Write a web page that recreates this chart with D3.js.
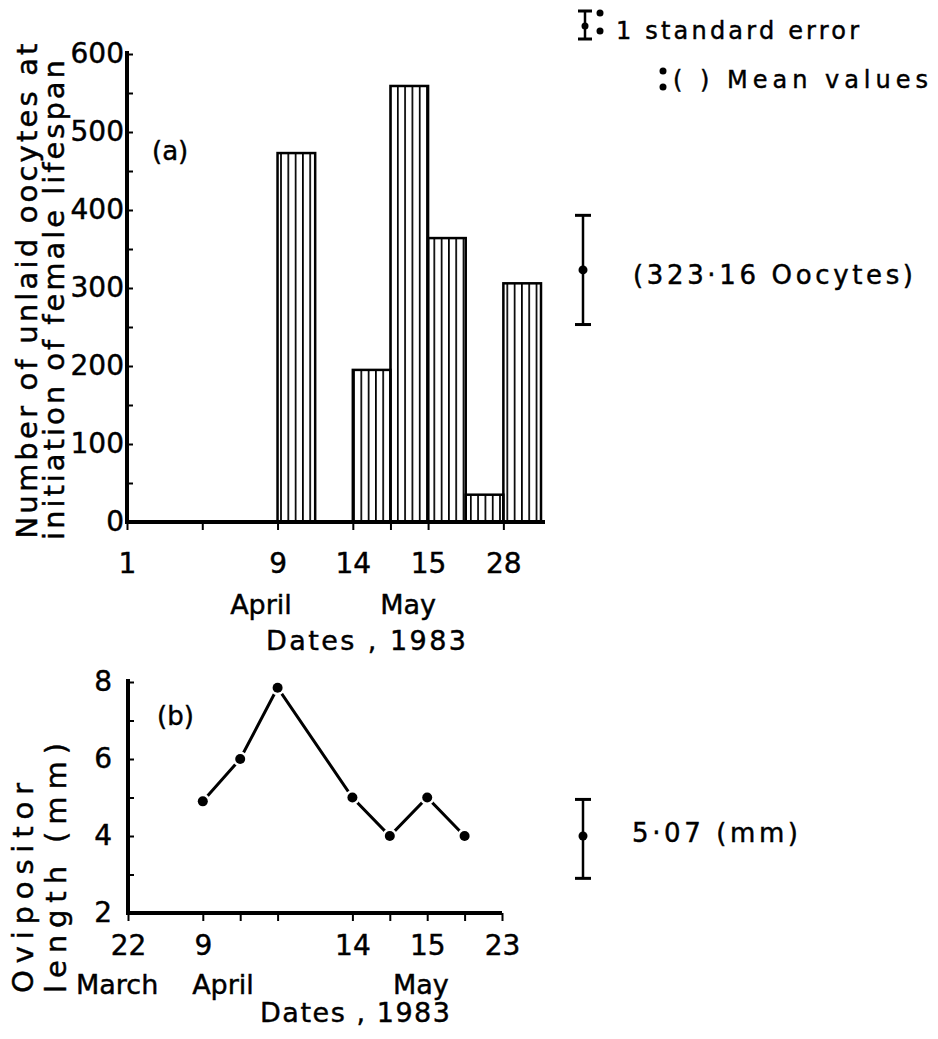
<!DOCTYPE html>
<html>
<head>
<meta charset="utf-8">
<script src="https://cdn.jsdelivr.net/npm/d3@7"></script>
<style>
  body { margin: 0; background: #fff; }
  text { font-family: "DejaVu Sans", sans-serif; fill: #000; stroke: #000; stroke-width: 0.45px; }
</style>
</head>
<body>
<svg></svg>
<script>
// (a) unlaid oocytes
const tickPosA = [0, 2, 4, 6, 7, 8, 10];
const tickLabelsA = ["1", "", "9", "14", "", "15", "28"];
const barSlots = [4, 6, 7, 8, 9, 10];
const barValues = [473, 195, 559, 364, 35, 306];
const monthLabelsA = ["April", "May"];
const monthPosA = [3.56, 7.47];
const meanA = 323.16, seA = 70;

// (b) ovipositor length
const tickPosB = [0, 2, 3, 4, 6, 7, 8, 9, 10];
const tickLabelsB = ["22", "9", "", "", "14", "", "15", "", "23"];
const pointPos = [2, 3, 4, 6, 7, 8, 9];
const lengths = [4.9, 6, 7.85, 5, 4, 5, 4];
const monthLabelsB = ["March", "April", "May"];
const monthPosB = [-0.29, 2.54, 7.83];
const errB = [2.9, 4.0, 4.95];

const svgWidth = 938, svgHeight = 1039;
const svg = d3.select("svg").attr("width", svgWidth).attr("height", svgHeight);

svg.append("defs").append("pattern")
    .attr("id", "hatch")
    .attr("patternUnits", "userSpaceOnUse")
    .attr("width", 7.3).attr("height", 10)
  .append("line")
    .attr("x1", 3.6).attr("x2", 3.6).attr("y1", 0).attr("y2", 10)
    .attr("stroke", "#000").attr("stroke-width", 1.7);

// ---------- chart (a) ----------
const xA = d3.scaleLinear().domain([0, 11]).range([127, 541]);
const yA = d3.scaleLinear().domain([0, 600]).range([522, 54]);

svg.selectAll("rect.bar")
    .data(barValues)
    .enter().append("rect")
    .attr("class", "bar")
    .attr("x", (d, i) => xA(barSlots[i]))
    .attr("y", d => yA(d))
    .attr("width", xA(1) - xA(0))
    .attr("height", d => yA(0) - yA(d))
    .attr("fill", "url(#hatch)")
    .attr("stroke", "#000")
    .attr("stroke-width", 2.5);

const gxA = svg.append("g")
    .attr("transform", "translate(0," + yA(0) + ")")
    .call(d3.axisBottom(xA).tickValues(tickPosA)
      .tickFormat((d, i) => tickLabelsA[i]).tickSize(8).tickPadding(23));
gxA.select(".domain").attr("d", "M" + xA(0) + ",0H" + (xA(11) + 4)).attr("stroke-width", 4);
gxA.selectAll(".tick line").attr("stroke-width", 2);
gxA.selectAll("text").attr("font-size", 28).attr("font-family", "DejaVu Sans");

const gyA = svg.append("g")
    .attr("transform", "translate(" + xA(0) + ",0)")
    .call(d3.axisLeft(yA).tickValues(d3.range(0, 601, 50))
      .tickFormat(d => d % 100 === 0 ? d : "").tickSize(-6).tickPadding(3));
gyA.select(".domain").attr("d", "M0," + (yA(0) + 2) + "V" + (yA(600) - 3)).attr("stroke-width", 4);
gyA.selectAll(".tick line").attr("stroke-width", 2);
gyA.selectAll("text").attr("font-size", 28).attr("font-family", "DejaVu Sans");

svg.selectAll("text.monthA")
    .data(monthLabelsA)
    .enter().append("text")
    .attr("class", "monthA")
    .attr("x", (d, i) => xA(monthPosA[i]))
    .attr("y", 614)
    .attr("text-anchor", "middle")
    .attr("font-size", 27)
    .text(d => d);

svg.append("text")
    .attr("x", 366).attr("y", 650)
    .attr("text-anchor", "middle")
    .attr("font-size", 27)
    .attr("textLength", 200).attr("lengthAdjust", "spacing")
    .text("Dates ,  1983");

svg.append("text")
    .attr("transform", "translate(37,291) rotate(-90)")
    .attr("text-anchor", "middle")
    .attr("font-size", 29)
    .attr("textLength", 495).attr("lengthAdjust", "spacing")
    .text("Number of unlaid oocytes at");

svg.append("text")
    .attr("transform", "translate(64,300) rotate(-90)")
    .attr("text-anchor", "middle")
    .attr("font-size", 29)
    .attr("textLength", 480).attr("lengthAdjust", "spacing")
    .text("initiation of female lifespan");

svg.append("text")
    .attr("x", 152).attr("y", 160)
    .attr("font-size", 26)
    .text("(a)");

// mean / standard error (a)
const ebA = svg.append("g").attr("transform", "translate(583,0)");
ebA.append("line").attr("y1", yA(meanA + seA)).attr("y2", yA(meanA - seA))
    .attr("stroke", "#000").attr("stroke-width", 2.5);
ebA.selectAll("line.cap").data([meanA + seA, meanA - seA]).enter().append("line")
    .attr("class", "cap")
    .attr("x1", -8).attr("x2", 8).attr("y1", d => yA(d)).attr("y2", d => yA(d))
    .attr("stroke", "#000").attr("stroke-width", 3);
ebA.append("circle").attr("cy", yA(meanA)).attr("r", 4.5).attr("fill", "#000");

svg.append("text")
    .attr("x", 633).attr("y", 284)
    .attr("font-size", 26)
    .attr("textLength", 280).attr("lengthAdjust", "spacing")
    .text("(323\u00b716  Oocytes)");

// legend
const lg = svg.append("g");
lg.append("line").attr("x1", 585).attr("x2", 585).attr("y1", 11).attr("y2", 39)
    .attr("stroke", "#000").attr("stroke-width", 2.5);
lg.selectAll("line.cap").data([11, 39]).enter().append("line")
    .attr("class", "cap")
    .attr("x1", 578).attr("x2", 592).attr("y1", d => d).attr("y2", d => d)
    .attr("stroke", "#000").attr("stroke-width", 3);
lg.append("circle").attr("cx", 585).attr("cy", 26).attr("r", 3.5).attr("fill", "#000");
lg.selectAll("circle.dot").data([[600, 13], [600, 31], [663, 71], [663, 87]])
    .enter().append("circle").attr("class", "dot")
    .attr("cx", d => d[0]).attr("cy", d => d[1]).attr("r", 3.5).attr("fill", "#000");
lg.append("text").attr("x", 616).attr("y", 39).attr("font-size", 24)
    .attr("textLength", 243).attr("lengthAdjust", "spacing")
    .text("1 standard error");
lg.append("text").attr("x", 673).attr("y", 88).attr("font-size", 24)
    .attr("textLength", 255).attr("lengthAdjust", "spacing")
    .text("( ) Mean  values");

// ---------- chart (b) ----------
const xB = d3.scaleLinear().domain([0, 10]).range([128, 502]);
const yB = d3.scaleLinear().domain([2, 8]).range([913, 682]);

const gxB = svg.append("g")
    .attr("transform", "translate(0," + yB(2) + ")")
    .call(d3.axisBottom(xB).tickValues(tickPosB)
      .tickFormat((d, i) => tickLabelsB[i]).tickSize(8).tickPadding(14));
gxB.select(".domain").attr("d", "M" + xB(0) + ",0H" + xB(10)).attr("stroke-width", 4);
gxB.selectAll(".tick line").attr("stroke-width", 2);
gxB.selectAll("text").attr("font-size", 28).attr("font-family", "DejaVu Sans");

const gyB = svg.append("g")
    .attr("transform", "translate(" + xB(0) + ",0)")
    .call(d3.axisLeft(yB).tickValues(d3.range(2, 9))
      .tickFormat(d => d % 2 === 0 ? d : "").tickSize(-6).tickPadding(16));
gyB.select(".domain").attr("d", "M0," + (yB(2) + 2) + "V" + (yB(8) - 3)).attr("stroke-width", 4);
gyB.selectAll(".tick line").attr("stroke-width", 2);
gyB.selectAll("text").attr("font-size", 28).attr("font-family", "DejaVu Sans");

const line = d3.line().x((d, i) => xB(pointPos[i])).y(d => yB(d));
svg.append("path")
    .datum(lengths)
    .attr("d", line)
    .attr("fill", "none")
    .attr("stroke", "#000")
    .attr("stroke-width", 3);

svg.selectAll("circle.pt")
    .data(lengths)
    .enter().append("circle")
    .attr("class", "pt")
    .attr("cx", (d, i) => xB(pointPos[i]))
    .attr("cy", d => yB(d))
    .attr("r", 5)
    .attr("fill", "#000")
    .attr("stroke", "#fff")
    .attr("stroke-width", 5)
    .attr("paint-order", "stroke");

svg.selectAll("text.monthB")
    .data(monthLabelsB)
    .enter().append("text")
    .attr("class", "monthB")
    .attr("x", (d, i) => xB(monthPosB[i]))
    .attr("y", 994)
    .attr("text-anchor", "middle")
    .attr("font-size", 27)
    .text(d => d);

svg.append("text")
    .attr("x", 355).attr("y", 1022)
    .attr("text-anchor", "middle")
    .attr("font-size", 27)
    .attr("textLength", 190).attr("lengthAdjust", "spacing")
    .text("Dates ,  1983");

svg.append("text")
    .attr("transform", "translate(33,888) rotate(-90)")
    .attr("text-anchor", "middle")
    .attr("font-size", 29)
    .attr("textLength", 210).attr("lengthAdjust", "spacing")
    .text("Ovipositor");

svg.append("text")
    .attr("transform", "translate(66,868) rotate(-90)")
    .attr("text-anchor", "middle")
    .attr("font-size", 29)
    .attr("textLength", 250).attr("lengthAdjust", "spacing")
    .text("length  (mm)");

svg.append("text")
    .attr("x", 157).attr("y", 725)
    .attr("font-size", 26)
    .text("(b)");

// mean / standard error (b)
const ebB = svg.append("g").attr("transform", "translate(583,0)");
ebB.append("line").attr("y1", yB(errB[2])).attr("y2", yB(errB[0]))
    .attr("stroke", "#000").attr("stroke-width", 2.5);
ebB.selectAll("line.cap").data([errB[0], errB[2]]).enter().append("line")
    .attr("class", "cap")
    .attr("x1", -8).attr("x2", 8).attr("y1", d => yB(d)).attr("y2", d => yB(d))
    .attr("stroke", "#000").attr("stroke-width", 3);
ebB.append("circle").attr("cy", yB(errB[1])).attr("r", 4.5).attr("fill", "#000");

svg.append("text")
    .attr("x", 632).attr("y", 842)
    .attr("font-size", 26)
    .attr("textLength", 166).attr("lengthAdjust", "spacing")
    .text("5\u00b707 (mm)");
</script>
</body>
</html>
